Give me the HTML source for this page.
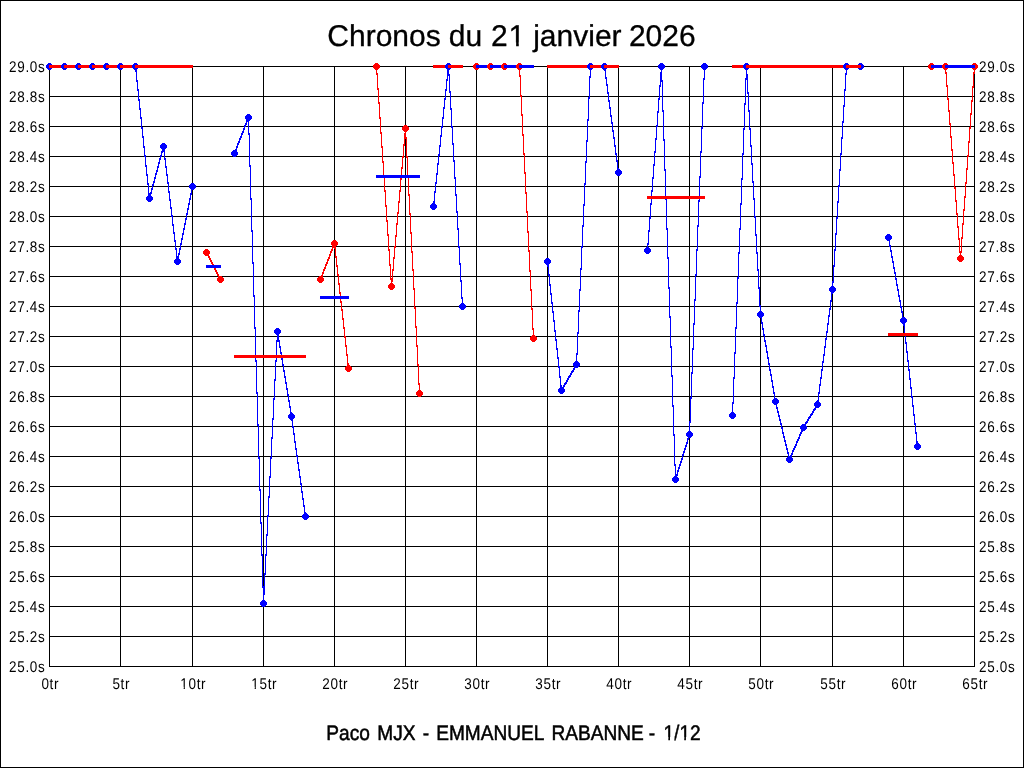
<!DOCTYPE html>
<html><head><meta charset="utf-8"><title>Chronos du 21 janvier 2026</title>
<style>html,body{margin:0;padding:0;background:#fff;width:1024px;height:768px;overflow:hidden}text{shape-rendering:auto;text-rendering:geometricPrecision}</style>
</head><body><svg width="1024" height="768" viewBox="0 0 1024 768" style="display:block" shape-rendering="crispEdges"><rect x="0" y="0" width="1024" height="768" fill="#fff"/><path d="M0 0h1024v768h-1024z M1 1v766h1022v-766z" fill="#000" fill-rule="evenodd"/><path d="M49 66h1v601h-1zM120 66h1v601h-1zM192 66h1v601h-1zM263 66h1v601h-1zM334 66h1v601h-1zM405 66h1v601h-1zM476 66h1v601h-1zM547 66h1v601h-1zM618 66h1v601h-1zM689 66h1v601h-1zM760 66h1v601h-1zM832 66h1v601h-1zM903 66h1v601h-1zM974 66h1v601h-1zM49 66h926v1h-926zM49 96h926v1h-926zM49 126h926v1h-926zM49 156h926v1h-926zM49 186h926v1h-926zM49 216h926v1h-926zM49 246h926v1h-926zM49 276h926v1h-926zM49 306h926v1h-926zM49 336h926v1h-926zM49 366h926v1h-926zM49 396h926v1h-926zM49 426h926v1h-926zM49 456h926v1h-926zM49 486h926v1h-926zM49 516h926v1h-926zM49 546h926v1h-926zM49 576h926v1h-926zM49 606h926v1h-926zM49 636h926v1h-926zM49 666h926v1h-926z" fill="#000"/><path d="M49 65h86v3h-86zM591 65h13v3h-13zM847 65h14v3h-14zM604 65h1v6h-1zM135 65h1v7h-1zM846 65h1v10h-1zM448 65h1v11h-1zM590 65h1v13h-1zM704 65h1v15h-1zM746 65h1v15h-1zM661 65h1v17h-1zM605 69h1v10h-1zM447 70h1v11h-1zM136 70h1v12h-1zM660 72h1v15h-1zM845 73h1v18h-1zM449 74h1v19h-1zM747 74h1v20h-1zM589 76h1v23h-1zM606 77h1v9h-1zM703 78h1v26h-1zM745 78h1v27h-1zM446 79h1v12h-1zM137 80h1v11h-1zM662 80h1v32h-1zM607 84h1v10h-1zM659 85h1v15h-1zM445 89h1v11h-1zM138 89h1v12h-1zM844 89h1v18h-1zM450 91h1v19h-1zM608 92h1v10h-1zM748 92h1v20h-1zM588 97h1v24h-1zM444 98h1v11h-1zM658 98h1v15h-1zM139 99h1v11h-1zM609 100h1v9h-1zM702 102h1v27h-1zM744 103h1v27h-1zM843 105h1v18h-1zM610 107h1v10h-1zM443 107h1v12h-1zM140 108h1v11h-1zM451 108h1v20h-1zM749 110h1v20h-1zM663 110h1v31h-1zM657 111h1v16h-1zM611 115h1v9h-1zM248 116h1v19h-1zM442 117h1v11h-1zM141 117h1v12h-1zM247 118h1v4h-1zM587 119h1v23h-1zM246 120h1v5h-1zM842 121h1v18h-1zM612 122h1v10h-1zM245 123h1v4h-1zM244 125h1v5h-1zM656 125h1v15h-1zM441 126h1v11h-1zM452 126h1v19h-1zM142 127h1v11h-1zM701 127h1v26h-1zM243 128h1v5h-1zM750 128h1v19h-1zM743 128h1v27h-1zM613 130h1v9h-1zM242 131h1v4h-1zM241 133h1v5h-1zM249 133h1v34h-1zM440 135h1v12h-1zM240 136h1v4h-1zM143 136h1v12h-1zM614 137h1v10h-1zM841 137h1v18h-1zM239 138h1v5h-1zM655 138h1v15h-1zM664 139h1v32h-1zM586 140h1v23h-1zM238 141h1v4h-1zM237 143h1v5h-1zM453 143h1v19h-1zM163 145h1v7h-1zM615 145h1v10h-1zM439 145h1v11h-1zM751 145h1v20h-1zM236 146h1v5h-1zM144 146h1v11h-1zM162 147h1v6h-1zM235 149h1v4h-1zM164 150h1v10h-1zM234 151h1v4h-1zM161 151h1v6h-1zM654 151h1v15h-1zM700 151h1v27h-1zM616 153h1v9h-1zM840 153h1v18h-1zM742 153h1v27h-1zM438 154h1v11h-1zM160 155h1v5h-1zM145 155h1v12h-1zM159 158h1v6h-1zM165 158h1v10h-1zM617 160h1v10h-1zM454 160h1v19h-1zM585 161h1v24h-1zM158 162h1v6h-1zM437 163h1v12h-1zM752 163h1v20h-1zM653 164h1v15h-1zM146 165h1v11h-1zM250 165h1v35h-1zM157 166h1v6h-1zM166 166h1v10h-1zM618 168h1v6h-1zM839 169h1v18h-1zM665 169h1v31h-1zM156 170h1v5h-1zM155 173h1v6h-1zM436 173h1v11h-1zM167 174h1v10h-1zM147 174h1v11h-1zM699 176h1v26h-1zM154 177h1v6h-1zM652 177h1v15h-1zM455 177h1v19h-1zM741 178h1v27h-1zM153 181h1v5h-1zM753 181h1v19h-1zM168 182h1v11h-1zM435 182h1v11h-1zM148 183h1v12h-1zM584 183h1v23h-1zM152 184h1v6h-1zM192 185h1v5h-1zM838 185h1v18h-1zM151 188h1v6h-1zM191 188h1v7h-1zM651 190h1v15h-1zM169 191h1v10h-1zM434 191h1v12h-1zM150 192h1v6h-1zM149 193h1v7h-1zM190 193h1v7h-1zM456 194h1v19h-1zM189 198h1v7h-1zM754 198h1v20h-1zM666 198h1v32h-1zM251 198h1v34h-1zM170 199h1v10h-1zM698 200h1v27h-1zM433 201h1v7h-1zM837 201h1v18h-1zM188 203h1v7h-1zM650 203h1v16h-1zM740 203h1v27h-1zM583 204h1v23h-1zM171 207h1v10h-1zM187 208h1v7h-1zM457 211h1v19h-1zM186 213h1v7h-1zM172 215h1v11h-1zM755 216h1v20h-1zM649 217h1v15h-1zM836 217h1v18h-1zM185 218h1v7h-1zM184 223h1v7h-1zM173 224h1v10h-1zM582 225h1v23h-1zM697 225h1v26h-1zM183 228h1v7h-1zM458 228h1v20h-1zM739 228h1v26h-1zM667 228h1v31h-1zM648 230h1v15h-1zM252 230h1v34h-1zM174 232h1v10h-1zM182 233h1v7h-1zM835 233h1v18h-1zM756 234h1v20h-1zM888 236h1v5h-1zM181 238h1v7h-1zM889 239h1v8h-1zM175 240h1v10h-1zM180 243h1v7h-1zM647 243h1v9h-1zM890 245h1v7h-1zM459 246h1v19h-1zM581 246h1v24h-1zM179 248h1v7h-1zM176 248h1v10h-1zM834 249h1v18h-1zM696 249h1v27h-1zM891 250h1v8h-1zM757 252h1v19h-1zM738 252h1v27h-1zM178 253h1v7h-1zM177 256h1v7h-1zM892 256h1v7h-1zM668 257h1v32h-1zM547 260h1v7h-1zM893 261h1v8h-1zM253 262h1v35h-1zM460 263h1v19h-1zM548 265h1v11h-1zM833 265h1v18h-1zM894 267h1v7h-1zM580 268h1v23h-1zM758 269h1v20h-1zM895 272h1v8h-1zM549 274h1v12h-1zM695 274h1v27h-1zM737 277h1v27h-1zM896 278h1v8h-1zM461 280h1v19h-1zM832 281h1v13h-1zM897 284h1v7h-1zM550 284h1v11h-1zM759 287h1v20h-1zM669 287h1v31h-1zM898 289h1v8h-1zM579 289h1v23h-1zM831 292h1v10h-1zM551 293h1v11h-1zM899 295h1v7h-1zM254 295h1v34h-1zM462 297h1v11h-1zM694 299h1v26h-1zM900 300h1v8h-1zM830 300h1v10h-1zM552 302h1v11h-1zM736 302h1v27h-1zM760 305h1v13h-1zM901 306h1v7h-1zM829 308h1v9h-1zM578 310h1v24h-1zM902 311h1v8h-1zM553 311h1v11h-1zM828 315h1v10h-1zM761 316h1v8h-1zM670 316h1v32h-1zM903 317h1v9h-1zM554 320h1v12h-1zM762 322h1v8h-1zM827 323h1v10h-1zM693 323h1v27h-1zM904 324h1v11h-1zM735 327h1v27h-1zM255 327h1v35h-1zM763 328h1v8h-1zM555 330h1v11h-1zM277 330h1v12h-1zM826 331h1v9h-1zM577 332h1v23h-1zM905 333h1v11h-1zM278 334h1v8h-1zM764 334h1v8h-1zM825 338h1v10h-1zM556 339h1v11h-1zM765 340h1v7h-1zM279 340h1v8h-1zM276 340h1v22h-1zM906 342h1v11h-1zM766 345h1v8h-1zM280 346h1v8h-1zM824 346h1v10h-1zM671 346h1v31h-1zM557 348h1v11h-1zM692 348h1v26h-1zM767 351h1v8h-1zM907 351h1v11h-1zM281 352h1v8h-1zM734 352h1v27h-1zM576 353h1v13h-1zM823 354h1v9h-1zM768 357h1v8h-1zM558 357h1v11h-1zM282 358h1v8h-1zM908 360h1v11h-1zM275 360h1v21h-1zM256 360h1v34h-1zM822 361h1v10h-1zM769 363h1v8h-1zM575 364h1v4h-1zM283 364h1v8h-1zM574 366h1v4h-1zM559 366h1v12h-1zM573 368h1v4h-1zM770 369h1v7h-1zM821 369h1v10h-1zM909 369h1v11h-1zM572 370h1v3h-1zM284 370h1v8h-1zM571 371h1v4h-1zM691 372h1v27h-1zM570 373h1v4h-1zM771 374h1v8h-1zM569 375h1v3h-1zM672 375h1v32h-1zM568 376h1v4h-1zM285 376h1v8h-1zM560 376h1v11h-1zM820 377h1v9h-1zM733 377h1v27h-1zM567 378h1v4h-1zM910 378h1v11h-1zM274 379h1v21h-1zM566 380h1v4h-1zM772 380h1v8h-1zM565 382h1v3h-1zM286 382h1v8h-1zM564 383h1v4h-1zM819 384h1v10h-1zM563 385h1v4h-1zM561 385h1v7h-1zM773 386h1v8h-1zM562 387h1v4h-1zM911 387h1v11h-1zM287 388h1v8h-1zM774 392h1v8h-1zM818 392h1v10h-1zM257 392h1v34h-1zM288 394h1v8h-1zM912 396h1v11h-1zM690 397h1v26h-1zM775 398h1v7h-1zM273 398h1v22h-1zM817 400h1v6h-1zM289 400h1v8h-1zM732 402h1v15h-1zM776 403h1v6h-1zM816 404h1v4h-1zM913 405h1v11h-1zM673 405h1v31h-1zM815 406h1v4h-1zM290 406h1v8h-1zM777 407h1v6h-1zM814 408h1v3h-1zM813 409h1v4h-1zM812 411h1v4h-1zM778 411h1v6h-1zM291 412h1v9h-1zM811 413h1v3h-1zM810 414h1v4h-1zM914 414h1v11h-1zM779 415h1v6h-1zM809 416h1v3h-1zM808 417h1v4h-1zM272 418h1v21h-1zM807 419h1v4h-1zM780 419h1v6h-1zM292 419h1v9h-1zM806 421h1v3h-1zM689 421h1v16h-1zM805 422h1v4h-1zM781 423h1v6h-1zM915 423h1v11h-1zM804 424h1v4h-1zM258 424h1v35h-1zM803 426h1v4h-1zM293 426h1v9h-1zM782 427h1v7h-1zM802 428h1v4h-1zM801 430h1v4h-1zM800 432h1v4h-1zM783 432h1v6h-1zM916 432h1v11h-1zM294 433h1v10h-1zM799 434h1v5h-1zM674 434h1v32h-1zM688 435h1v5h-1zM784 436h1v6h-1zM798 437h1v4h-1zM271 437h1v22h-1zM687 438h1v6h-1zM797 439h1v4h-1zM785 440h1v6h-1zM796 441h1v5h-1zM917 441h1v7h-1zM295 441h1v9h-1zM686 442h1v5h-1zM795 444h1v4h-1zM786 444h1v6h-1zM685 445h1v5h-1zM794 446h1v4h-1zM793 448h1v4h-1zM684 448h1v5h-1zM787 448h1v6h-1zM296 448h1v9h-1zM792 450h1v5h-1zM683 451h1v5h-1zM788 452h1v6h-1zM791 453h1v4h-1zM682 454h1v6h-1zM790 455h1v4h-1zM297 455h1v9h-1zM789 456h1v5h-1zM270 457h1v21h-1zM259 457h1v34h-1zM681 458h1v5h-1zM680 461h1v5h-1zM298 462h1v9h-1zM679 464h1v5h-1zM675 464h1v17h-1zM678 467h1v5h-1zM299 469h1v9h-1zM677 470h1v6h-1zM676 474h1v5h-1zM300 476h1v9h-1zM269 476h1v22h-1zM301 483h1v10h-1zM260 489h1v35h-1zM302 491h1v9h-1zM268 496h1v21h-1zM303 498h1v9h-1zM304 505h1v9h-1zM305 512h1v6h-1zM267 515h1v21h-1zM261 522h1v34h-1zM266 534h1v22h-1zM265 554h1v21h-1zM262 554h1v34h-1zM264 573h1v22h-1zM263 586h1v19h-1z" fill="#0000ff"/><path d="M476 65h43v3h-43zM931 65h14v3h-14zM945 65h1v9h-1zM974 65h1v9h-1zM376 65h1v10h-1zM519 65h1v12h-1zM946 72h1v15h-1zM973 72h1v16h-1zM377 73h1v17h-1zM520 75h1v22h-1zM947 85h1v15h-1zM972 86h1v16h-1zM378 88h1v16h-1zM521 95h1v21h-1zM948 98h1v14h-1zM971 100h1v15h-1zM379 102h1v17h-1zM949 110h1v15h-1zM970 113h1v16h-1zM522 114h1v22h-1zM380 117h1v17h-1zM950 123h1v15h-1zM405 127h1v12h-1zM969 127h1v16h-1zM381 132h1v16h-1zM404 133h1v13h-1zM523 134h1v21h-1zM951 136h1v15h-1zM406 137h1v21h-1zM968 141h1v16h-1zM403 144h1v14h-1zM382 146h1v17h-1zM952 149h1v15h-1zM524 153h1v21h-1zM967 155h1v15h-1zM402 156h1v13h-1zM407 156h1v21h-1zM383 161h1v17h-1zM953 162h1v14h-1zM401 167h1v13h-1zM966 168h1v16h-1zM525 172h1v22h-1zM954 174h1v15h-1zM408 175h1v21h-1zM384 176h1v16h-1zM400 178h1v14h-1zM965 182h1v16h-1zM955 187h1v15h-1zM399 190h1v13h-1zM385 190h1v17h-1zM526 192h1v21h-1zM409 194h1v21h-1zM964 196h1v15h-1zM956 200h1v15h-1zM398 201h1v13h-1zM386 205h1v17h-1zM963 209h1v16h-1zM527 211h1v22h-1zM397 212h1v13h-1zM957 213h1v15h-1zM410 213h1v21h-1zM387 220h1v16h-1zM396 223h1v14h-1zM962 223h1v16h-1zM958 226h1v14h-1zM528 231h1v21h-1zM411 232h1v21h-1zM388 234h1v17h-1zM395 235h1v13h-1zM961 237h1v16h-1zM959 238h1v15h-1zM334 242h1v7h-1zM333 244h1v4h-1zM332 246h1v5h-1zM394 246h1v13h-1zM335 247h1v11h-1zM331 249h1v4h-1zM389 249h1v17h-1zM529 250h1v22h-1zM206 251h1v3h-1zM330 251h1v5h-1zM960 251h1v9h-1zM412 251h1v20h-1zM207 252h1v4h-1zM208 254h1v4h-1zM329 254h1v5h-1zM209 256h1v4h-1zM336 256h1v11h-1zM328 257h1v4h-1zM393 257h1v14h-1zM210 258h1v4h-1zM327 259h1v5h-1zM211 260h1v4h-1zM212 262h1v4h-1zM326 262h1v4h-1zM213 264h1v4h-1zM325 264h1v5h-1zM390 264h1v16h-1zM337 265h1v11h-1zM214 266h1v4h-1zM324 267h1v4h-1zM215 268h1v4h-1zM323 269h1v5h-1zM392 269h1v13h-1zM413 269h1v21h-1zM216 270h1v4h-1zM530 270h1v21h-1zM217 272h1v4h-1zM322 272h1v5h-1zM218 274h1v4h-1zM338 274h1v11h-1zM321 275h1v4h-1zM219 276h1v4h-1zM320 277h1v4h-1zM220 278h1v3h-1zM391 278h1v10h-1zM339 283h1v11h-1zM414 288h1v21h-1zM531 289h1v21h-1zM340 292h1v11h-1zM341 301h1v10h-1zM415 307h1v21h-1zM532 308h1v22h-1zM342 309h1v11h-1zM343 318h1v11h-1zM416 326h1v21h-1zM344 327h1v11h-1zM533 328h1v12h-1zM345 336h1v11h-1zM346 345h1v11h-1zM417 345h1v21h-1zM347 354h1v11h-1zM348 363h1v7h-1zM418 364h1v21h-1zM419 383h1v12h-1z" fill="#ff0000"/><path d="M191 183h3v1h1v1h1v3h-1v1h-1v1h-3v-1h-1v-1h-1v-3h1v-1h1zM48 63h3v1h1v1h1v3h-1v1h-1v1h-3v-1h-1v-1h-1v-3h1v-1h1z" fill="#0000ff"/><rect x="49" y="65" width="16" height="3" fill="#ff0000"/><path d="M63 63h3v1h1v1h1v3h-1v1h-1v1h-3v-1h-1v-1h-1v-3h1v-1h1z" fill="#0000ff"/><rect x="64" y="65" width="15" height="3" fill="#ff0000"/><path d="M77 63h3v1h1v1h1v3h-1v1h-1v1h-3v-1h-1v-1h-1v-3h1v-1h1z" fill="#0000ff"/><rect x="78" y="65" width="15" height="3" fill="#ff0000"/><path d="M91 63h3v1h1v1h1v3h-1v1h-1v1h-3v-1h-1v-1h-1v-3h1v-1h1z" fill="#0000ff"/><rect x="92" y="65" width="15" height="3" fill="#ff0000"/><path d="M105 63h3v1h1v1h1v3h-1v1h-1v1h-3v-1h-1v-1h-1v-3h1v-1h1z" fill="#0000ff"/><rect x="106" y="65" width="15" height="3" fill="#ff0000"/><path d="M119 63h3v1h1v1h1v3h-1v1h-1v1h-3v-1h-1v-1h-1v-3h1v-1h1z" fill="#0000ff"/><rect x="120" y="65" width="16" height="3" fill="#ff0000"/><path d="M134 63h3v1h1v1h1v3h-1v1h-1v1h-3v-1h-1v-1h-1v-3h1v-1h1z" fill="#0000ff"/><rect x="135" y="65" width="15" height="3" fill="#ff0000"/><path d="M148 195h3v1h1v1h1v3h-1v1h-1v1h-3v-1h-1v-1h-1v-3h1v-1h1z" fill="#0000ff"/><rect x="149" y="65" width="15" height="3" fill="#ff0000"/><path d="M162 143h3v1h1v1h1v3h-1v1h-1v1h-3v-1h-1v-1h-1v-3h1v-1h1z" fill="#0000ff"/><rect x="163" y="65" width="15" height="3" fill="#ff0000"/><path d="M176 258h3v1h1v1h1v3h-1v1h-1v1h-3v-1h-1v-1h-1v-3h1v-1h1z" fill="#0000ff"/><rect x="177" y="65" width="16" height="3" fill="#ff0000"/><path d="M219 276h3v1h1v1h1v3h-1v1h-1v1h-3v-1h-1v-1h-1v-3h1v-1h1zM205 249h3v1h1v1h1v3h-1v1h-1v1h-3v-1h-1v-1h-1v-3h1v-1h1z" fill="#ff0000"/><rect x="206" y="265" width="15" height="3" fill="#0000ff"/><path d="M304 513h3v1h1v1h1v3h-1v1h-1v1h-3v-1h-1v-1h-1v-3h1v-1h1zM233 150h3v1h1v1h1v3h-1v1h-1v1h-3v-1h-1v-1h-1v-3h1v-1h1z" fill="#0000ff"/><rect x="234" y="355" width="15" height="3" fill="#ff0000"/><path d="M247 114h3v1h1v1h1v3h-1v1h-1v1h-3v-1h-1v-1h-1v-3h1v-1h1z" fill="#0000ff"/><rect x="248" y="355" width="16" height="3" fill="#ff0000"/><path d="M262 600h3v1h1v1h1v3h-1v1h-1v1h-3v-1h-1v-1h-1v-3h1v-1h1z" fill="#0000ff"/><rect x="263" y="355" width="15" height="3" fill="#ff0000"/><path d="M276 328h3v1h1v1h1v3h-1v1h-1v1h-3v-1h-1v-1h-1v-3h1v-1h1z" fill="#0000ff"/><rect x="277" y="355" width="15" height="3" fill="#ff0000"/><path d="M290 413h3v1h1v1h1v3h-1v1h-1v1h-3v-1h-1v-1h-1v-3h1v-1h1z" fill="#0000ff"/><rect x="291" y="355" width="15" height="3" fill="#ff0000"/><path d="M347 365h3v1h1v1h1v3h-1v1h-1v1h-3v-1h-1v-1h-1v-3h1v-1h1zM319 276h3v1h1v1h1v3h-1v1h-1v1h-3v-1h-1v-1h-1v-3h1v-1h1z" fill="#ff0000"/><rect x="320" y="296" width="15" height="3" fill="#0000ff"/><path d="M333 240h3v1h1v1h1v3h-1v1h-1v1h-3v-1h-1v-1h-1v-3h1v-1h1z" fill="#ff0000"/><rect x="334" y="296" width="15" height="3" fill="#0000ff"/><path d="M418 390h3v1h1v1h1v3h-1v1h-1v1h-3v-1h-1v-1h-1v-3h1v-1h1zM375 63h3v1h1v1h1v3h-1v1h-1v1h-3v-1h-1v-1h-1v-3h1v-1h1z" fill="#ff0000"/><rect x="376" y="175" width="16" height="3" fill="#0000ff"/><path d="M390 283h3v1h1v1h1v3h-1v1h-1v1h-3v-1h-1v-1h-1v-3h1v-1h1z" fill="#ff0000"/><rect x="391" y="175" width="15" height="3" fill="#0000ff"/><path d="M404 125h3v1h1v1h1v3h-1v1h-1v1h-3v-1h-1v-1h-1v-3h1v-1h1z" fill="#ff0000"/><rect x="405" y="175" width="15" height="3" fill="#0000ff"/><path d="M461 303h3v1h1v1h1v3h-1v1h-1v1h-3v-1h-1v-1h-1v-3h1v-1h1zM432 203h3v1h1v1h1v3h-1v1h-1v1h-3v-1h-1v-1h-1v-3h1v-1h1z" fill="#0000ff"/><rect x="433" y="65" width="16" height="3" fill="#ff0000"/><path d="M447 63h3v1h1v1h1v3h-1v1h-1v1h-3v-1h-1v-1h-1v-3h1v-1h1z" fill="#0000ff"/><rect x="448" y="65" width="15" height="3" fill="#ff0000"/><path d="M532 335h3v1h1v1h1v3h-1v1h-1v1h-3v-1h-1v-1h-1v-3h1v-1h1zM475 63h3v1h1v1h1v3h-1v1h-1v1h-3v-1h-1v-1h-1v-3h1v-1h1z" fill="#ff0000"/><rect x="476" y="65" width="15" height="3" fill="#0000ff"/><path d="M489 63h3v1h1v1h1v3h-1v1h-1v1h-3v-1h-1v-1h-1v-3h1v-1h1z" fill="#ff0000"/><rect x="490" y="65" width="15" height="3" fill="#0000ff"/><path d="M503 63h3v1h1v1h1v3h-1v1h-1v1h-3v-1h-1v-1h-1v-3h1v-1h1z" fill="#ff0000"/><rect x="504" y="65" width="16" height="3" fill="#0000ff"/><path d="M518 63h3v1h1v1h1v3h-1v1h-1v1h-3v-1h-1v-1h-1v-3h1v-1h1z" fill="#ff0000"/><rect x="519" y="65" width="15" height="3" fill="#0000ff"/><path d="M617 169h3v1h1v1h1v3h-1v1h-1v1h-3v-1h-1v-1h-1v-3h1v-1h1zM546 258h3v1h1v1h1v3h-1v1h-1v1h-3v-1h-1v-1h-1v-3h1v-1h1z" fill="#0000ff"/><rect x="547" y="65" width="15" height="3" fill="#ff0000"/><path d="M560 387h3v1h1v1h1v3h-1v1h-1v1h-3v-1h-1v-1h-1v-3h1v-1h1z" fill="#0000ff"/><rect x="561" y="65" width="16" height="3" fill="#ff0000"/><path d="M575 361h3v1h1v1h1v3h-1v1h-1v1h-3v-1h-1v-1h-1v-3h1v-1h1z" fill="#0000ff"/><rect x="576" y="65" width="15" height="3" fill="#ff0000"/><path d="M589 63h3v1h1v1h1v3h-1v1h-1v1h-3v-1h-1v-1h-1v-3h1v-1h1z" fill="#0000ff"/><rect x="590" y="65" width="15" height="3" fill="#ff0000"/><path d="M603 63h3v1h1v1h1v3h-1v1h-1v1h-3v-1h-1v-1h-1v-3h1v-1h1z" fill="#0000ff"/><rect x="604" y="65" width="15" height="3" fill="#ff0000"/><path d="M703 63h3v1h1v1h1v3h-1v1h-1v1h-3v-1h-1v-1h-1v-3h1v-1h1zM646 247h3v1h1v1h1v3h-1v1h-1v1h-3v-1h-1v-1h-1v-3h1v-1h1z" fill="#0000ff"/><rect x="647" y="196" width="15" height="3" fill="#ff0000"/><path d="M660 63h3v1h1v1h1v3h-1v1h-1v1h-3v-1h-1v-1h-1v-3h1v-1h1z" fill="#0000ff"/><rect x="661" y="196" width="15" height="3" fill="#ff0000"/><path d="M674 476h3v1h1v1h1v3h-1v1h-1v1h-3v-1h-1v-1h-1v-3h1v-1h1z" fill="#0000ff"/><rect x="675" y="196" width="15" height="3" fill="#ff0000"/><path d="M688 431h3v1h1v1h1v3h-1v1h-1v1h-3v-1h-1v-1h-1v-3h1v-1h1z" fill="#0000ff"/><rect x="689" y="196" width="16" height="3" fill="#ff0000"/><path d="M859 63h3v1h1v1h1v3h-1v1h-1v1h-3v-1h-1v-1h-1v-3h1v-1h1zM731 412h3v1h1v1h1v3h-1v1h-1v1h-3v-1h-1v-1h-1v-3h1v-1h1z" fill="#0000ff"/><rect x="732" y="65" width="15" height="3" fill="#ff0000"/><path d="M745 63h3v1h1v1h1v3h-1v1h-1v1h-3v-1h-1v-1h-1v-3h1v-1h1z" fill="#0000ff"/><rect x="746" y="65" width="15" height="3" fill="#ff0000"/><path d="M759 311h3v1h1v1h1v3h-1v1h-1v1h-3v-1h-1v-1h-1v-3h1v-1h1z" fill="#0000ff"/><rect x="760" y="65" width="16" height="3" fill="#ff0000"/><path d="M774 398h3v1h1v1h1v3h-1v1h-1v1h-3v-1h-1v-1h-1v-3h1v-1h1z" fill="#0000ff"/><rect x="775" y="65" width="15" height="3" fill="#ff0000"/><path d="M788 456h3v1h1v1h1v3h-1v1h-1v1h-3v-1h-1v-1h-1v-3h1v-1h1z" fill="#0000ff"/><rect x="789" y="65" width="15" height="3" fill="#ff0000"/><path d="M802 424h3v1h1v1h1v3h-1v1h-1v1h-3v-1h-1v-1h-1v-3h1v-1h1z" fill="#0000ff"/><rect x="803" y="65" width="15" height="3" fill="#ff0000"/><path d="M816 401h3v1h1v1h1v3h-1v1h-1v1h-3v-1h-1v-1h-1v-3h1v-1h1z" fill="#0000ff"/><rect x="817" y="65" width="16" height="3" fill="#ff0000"/><path d="M831 286h3v1h1v1h1v3h-1v1h-1v1h-3v-1h-1v-1h-1v-3h1v-1h1z" fill="#0000ff"/><rect x="832" y="65" width="15" height="3" fill="#ff0000"/><path d="M845 63h3v1h1v1h1v3h-1v1h-1v1h-3v-1h-1v-1h-1v-3h1v-1h1z" fill="#0000ff"/><rect x="846" y="65" width="15" height="3" fill="#ff0000"/><path d="M916 443h3v1h1v1h1v3h-1v1h-1v1h-3v-1h-1v-1h-1v-3h1v-1h1zM887 234h3v1h1v1h1v3h-1v1h-1v1h-3v-1h-1v-1h-1v-3h1v-1h1z" fill="#0000ff"/><rect x="888" y="333" width="16" height="3" fill="#ff0000"/><path d="M902 317h3v1h1v1h1v3h-1v1h-1v1h-3v-1h-1v-1h-1v-3h1v-1h1z" fill="#0000ff"/><rect x="903" y="333" width="15" height="3" fill="#ff0000"/><path d="M973 63h3v1h1v1h1v3h-1v1h-1v1h-3v-1h-1v-1h-1v-3h1v-1h1zM930 63h3v1h1v1h1v3h-1v1h-1v1h-3v-1h-1v-1h-1v-3h1v-1h1z" fill="#ff0000"/><rect x="931" y="65" width="15" height="3" fill="#0000ff"/><path d="M944 63h3v1h1v1h1v3h-1v1h-1v1h-3v-1h-1v-1h-1v-3h1v-1h1z" fill="#ff0000"/><rect x="945" y="65" width="16" height="3" fill="#0000ff"/><path d="M959 255h3v1h1v1h1v3h-1v1h-1v1h-3v-1h-1v-1h-1v-3h1v-1h1z" fill="#ff0000"/><rect x="960" y="65" width="15" height="3" fill="#0000ff"/><g font-family="Liberation Sans, Arial, Helvetica, sans-serif" font-size="15.5" letter-spacing="0.8" fill="#000"><text transform="translate(9 72) scale(0.87 1)">29.0s</text><text transform="translate(979 72) scale(0.87 1)">29.0s</text><text transform="translate(9 102) scale(0.87 1)">28.8s</text><text transform="translate(979 102) scale(0.87 1)">28.8s</text><text transform="translate(9 132) scale(0.87 1)">28.6s</text><text transform="translate(979 132) scale(0.87 1)">28.6s</text><text transform="translate(9 162) scale(0.87 1)">28.4s</text><text transform="translate(979 162) scale(0.87 1)">28.4s</text><text transform="translate(9 192) scale(0.87 1)">28.2s</text><text transform="translate(979 192) scale(0.87 1)">28.2s</text><text transform="translate(9 222) scale(0.87 1)">28.0s</text><text transform="translate(979 222) scale(0.87 1)">28.0s</text><text transform="translate(9 252) scale(0.87 1)">27.8s</text><text transform="translate(979 252) scale(0.87 1)">27.8s</text><text transform="translate(9 282) scale(0.87 1)">27.6s</text><text transform="translate(979 282) scale(0.87 1)">27.6s</text><text transform="translate(9 312) scale(0.87 1)">27.4s</text><text transform="translate(979 312) scale(0.87 1)">27.4s</text><text transform="translate(9 342) scale(0.87 1)">27.2s</text><text transform="translate(979 342) scale(0.87 1)">27.2s</text><text transform="translate(9 372) scale(0.87 1)">27.0s</text><text transform="translate(979 372) scale(0.87 1)">27.0s</text><text transform="translate(9 402) scale(0.87 1)">26.8s</text><text transform="translate(979 402) scale(0.87 1)">26.8s</text><text transform="translate(9 432) scale(0.87 1)">26.6s</text><text transform="translate(979 432) scale(0.87 1)">26.6s</text><text transform="translate(9 462) scale(0.87 1)">26.4s</text><text transform="translate(979 462) scale(0.87 1)">26.4s</text><text transform="translate(9 492) scale(0.87 1)">26.2s</text><text transform="translate(979 492) scale(0.87 1)">26.2s</text><text transform="translate(9 522) scale(0.87 1)">26.0s</text><text transform="translate(979 522) scale(0.87 1)">26.0s</text><text transform="translate(9 552) scale(0.87 1)">25.8s</text><text transform="translate(979 552) scale(0.87 1)">25.8s</text><text transform="translate(9 582) scale(0.87 1)">25.6s</text><text transform="translate(979 582) scale(0.87 1)">25.6s</text><text transform="translate(9 612) scale(0.87 1)">25.4s</text><text transform="translate(979 612) scale(0.87 1)">25.4s</text><text transform="translate(9 642) scale(0.87 1)">25.2s</text><text transform="translate(979 642) scale(0.87 1)">25.2s</text><text transform="translate(9 672) scale(0.87 1)">25.0s</text><text transform="translate(979 672) scale(0.87 1)">25.0s</text><text transform="translate(50.3 689) scale(0.87 1)" text-anchor="middle">0tr</text><text transform="translate(121.3 689) scale(0.87 1)" text-anchor="middle">5tr</text><g transform="translate(193.3 689) scale(0.87 1)"><text text-anchor="middle">10tr</text><rect x="-14.57" y="-2.16" width="3.52" height="3.16" fill="#fff" shape-rendering="geometricPrecision"/><rect x="-9.69" y="-2.16" width="3.40" height="3.16" fill="#fff" shape-rendering="geometricPrecision"/></g><g transform="translate(264.3 689) scale(0.87 1)"><text text-anchor="middle">15tr</text><rect x="-14.57" y="-2.16" width="3.52" height="3.16" fill="#fff" shape-rendering="geometricPrecision"/><rect x="-9.69" y="-2.16" width="3.40" height="3.16" fill="#fff" shape-rendering="geometricPrecision"/></g><text transform="translate(335.3 689) scale(0.87 1)" text-anchor="middle">20tr</text><text transform="translate(406.3 689) scale(0.87 1)" text-anchor="middle">25tr</text><text transform="translate(477.3 689) scale(0.87 1)" text-anchor="middle">30tr</text><text transform="translate(548.3 689) scale(0.87 1)" text-anchor="middle">35tr</text><text transform="translate(619.3 689) scale(0.87 1)" text-anchor="middle">40tr</text><text transform="translate(690.3 689) scale(0.87 1)" text-anchor="middle">45tr</text><text transform="translate(761.3 689) scale(0.87 1)" text-anchor="middle">50tr</text><text transform="translate(833.3 689) scale(0.87 1)" text-anchor="middle">55tr</text><text transform="translate(904.3 689) scale(0.87 1)" text-anchor="middle">60tr</text><text transform="translate(975.3 689) scale(0.87 1)" text-anchor="middle">65tr</text></g><text y="46" font-family="Liberation Sans, Arial, Helvetica, sans-serif" font-size="30" fill="#000" stroke="#000" stroke-width="0.3"><tspan x="327.3">Chronos</tspan> <tspan x="448.8">du</tspan> <tspan x="490.9">2<tspan dx="1">1</tspan></tspan> <tspan x="533.2">janvier</tspan> <tspan x="628.9">2026</tspan></text><rect x="509.76" y="42.46" width="6.36" height="4.54" fill="#fff" shape-rendering="geometricPrecision"/><rect x="518.77" y="42.46" width="6.12" height="4.54" fill="#fff" shape-rendering="geometricPrecision"/><text transform="scale(0.91 1)" y="740" font-family="Liberation Sans, Arial, Helvetica, sans-serif" font-size="21" fill="#000" stroke="#000" stroke-width="0.5"><tspan x="358.57">Paco</tspan> <tspan x="414.62">MJX</tspan> <tspan x="464.62">-</tspan> <tspan x="479.34">EMMANUEL</tspan> <tspan x="605.93">RABANNE</tspan> <tspan x="712.97">-</tspan> <tspan x="729.12">1/12</tspan></text><g transform="scale(0.91 1)"><rect x="729.52" y="737.03" width="4.88" height="3.97" fill="#fff" shape-rendering="geometricPrecision"/><rect x="736.26" y="737.03" width="4.72" height="3.97" fill="#fff" shape-rendering="geometricPrecision"/><rect x="747.02" y="737.03" width="4.88" height="3.97" fill="#fff" shape-rendering="geometricPrecision"/><rect x="753.76" y="737.03" width="4.72" height="3.97" fill="#fff" shape-rendering="geometricPrecision"/></g></svg></body></html>
